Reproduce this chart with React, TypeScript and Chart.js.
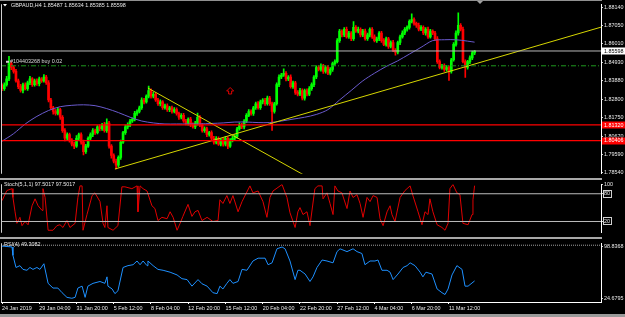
import React, { useEffect, useRef } from "react";
import { Chart, registerables } from "chart.js";

Chart.register(...registerables);

// ---------------- DATA ----------------
const symbolTitle = "GBPAUD,H4 1.85487 1.85634 1.85385 1.85598";
const orderText = "#104403268 buy 0.02";
const stochTitle = "Stoch(5,1,1) 97.5017 97.5017";
const rsiTitle = "RSI(4) 49.3082";

const firstOpen = 1.836;
const closes = [
  1.8342, 1.8364, 1.8398, 1.8487, 1.8464, 1.8442, 1.8387, 1.8353, 1.8331, 1.8364,
  1.8342, 1.8376, 1.8398, 1.8364, 1.8387, 1.837, 1.8398, 1.8387, 1.8409, 1.8376,
  1.8276, 1.8231, 1.8209, 1.8198, 1.822, 1.8176, 1.8098, 1.8054, 1.8076, 1.8043,
  1.802, 1.8009, 1.8054, 1.8076, 1.8032, 1.7976, 1.8009, 1.8054, 1.8076, 1.8098,
  1.8087, 1.812, 1.8109, 1.8131, 1.8098, 1.8142, 1.8009, 1.7954, 1.7921, 1.7898,
  1.7943, 1.8032, 1.8087, 1.812, 1.8131, 1.8154, 1.8165, 1.8198, 1.8209, 1.8231,
  1.8276, 1.8265, 1.8298, 1.8331, 1.8298, 1.8309, 1.8276, 1.8254, 1.8265, 1.8231,
  1.8242, 1.822, 1.8231, 1.8209, 1.822, 1.8198, 1.8176, 1.8187, 1.8154, 1.8142,
  1.8165, 1.8131, 1.812, 1.8142, 1.8176, 1.8131, 1.8098, 1.8109, 1.8076, 1.8087,
  1.8054, 1.8032, 1.8054, 1.802, 1.8043, 1.802, 1.8054, 1.8009, 1.8043, 1.8054,
  1.8065, 1.8109, 1.8131, 1.812, 1.8154, 1.8187, 1.8209, 1.8198, 1.8231, 1.8254,
  1.8231, 1.8265, 1.8276, 1.8254, 1.8287, 1.8254, 1.8209, 1.8254, 1.8365, 1.8409,
  1.842, 1.8431, 1.8398, 1.8409, 1.8353, 1.8376, 1.832, 1.8309, 1.8331, 1.8287,
  1.8331, 1.8309, 1.8342, 1.8365, 1.8409, 1.8464, 1.8453, 1.8475, 1.8442, 1.8464,
  1.8431, 1.8453, 1.8487, 1.8498, 1.862, 1.8675, 1.8653, 1.8686, 1.8642, 1.8664,
  1.8631, 1.8697, 1.8675, 1.8686, 1.8653, 1.8675, 1.8631, 1.8653, 1.8686, 1.8642,
  1.862, 1.8631, 1.8664, 1.862, 1.8598, 1.8631, 1.8587, 1.8609, 1.8564, 1.8553,
  1.8609, 1.8642, 1.8664, 1.8686, 1.8697, 1.8731, 1.8742, 1.872, 1.8709, 1.8686,
  1.8697, 1.8664, 1.8686, 1.8642, 1.8675, 1.8664, 1.8631, 1.8498, 1.8464, 1.8475,
  1.8453, 1.8464, 1.8442, 1.8509, 1.8598, 1.8664, 1.8709, 1.8686, 1.8498, 1.8464,
  1.8498, 1.852, 1.85487, 1.85598,
];
// upper / lower shadow lengths in pips
const wickHi = [
  10, 12, 15, 42, 10, 8, 12, 10, 14, 10, 12, 10, 15, 8, 10, 12, 10, 8, 14, 10,
  12, 10, 8, 12, 10, 8, 10, 12, 10, 8, 10, 12, 15, 8, 10, 12, 10, 8, 10, 12,
  10, 8, 12, 10, 15, 25, 10, 8, 10, 12, 10, 12, 8, 10, 12, 10, 8, 12, 10, 10,
  12, 10, 8, 25, 10, 12, 8, 10, 12, 8, 10, 12, 8, 10, 12, 10, 8, 10, 12, 10,
  8, 10, 12, 10, 24, 10, 8, 12, 10, 8, 10, 12, 10, 8, 10, 12, 10, 8, 10, 12,
  10, 8, 12, 10, 8, 10, 12, 10, 8, 10, 12, 10, 8, 10, 12, 10, 10, 8, 10, 12,
  10, 26, 10, 8, 12, 10, 8, 10, 12, 10, 8, 10, 12, 10, 8, 10, 12, 10, 8, 10,
  12, 10, 8, 10, 12, 10, 8, 10, 12, 10, 8, 33, 10, 12, 8, 10, 12, 10, 8, 10,
  12, 10, 8, 10, 12, 10, 8, 10, 12, 10, 8, 10, 12, 10, 8, 10, 33, 10, 8, 12,
  10, 8, 10, 12, 10, 8, 10, 12, 10, 8, 10, 12, 10, 8, 10, 12, 72, 10, 12, 10,
  8, 12, 10, 4,
];
const wickLo = [
  12, 10, 8, 10, 12, 10, 8, 12, 10, 14, 8, 10, 12, 10, 8, 10, 12, 10, 8, 10,
  12, 10, 15, 10, 8, 12, 10, 15, 10, 12, 10, 15, 8, 10, 12, 18, 10, 8, 10, 12,
  10, 8, 12, 10, 8, 10, 12, 15, 10, 22, 10, 12, 8, 10, 12, 10, 8, 10, 12, 8,
  10, 12, 8, 10, 12, 10, 8, 10, 12, 10, 8, 10, 12, 10, 8, 10, 12, 10, 8, 10,
  12, 10, 8, 10, 12, 10, 8, 10, 12, 10, 8, 12, 10, 8, 10, 12, 10, 15, 8, 10,
  12, 10, 8, 10, 12, 10, 8, 10, 12, 10, 8, 10, 12, 10, 8, 10, 109, 10, 8, 12,
  10, 8, 12, 10, 8, 10, 12, 10, 8, 10, 12, 10, 8, 10, 12, 10, 8, 10, 12, 10,
  8, 10, 12, 10, 8, 10, 12, 10, 8, 10, 12, 10, 8, 10, 12, 10, 8, 10, 12, 10,
  8, 10, 12, 10, 8, 10, 12, 10, 8, 18, 10, 12, 8, 10, 12, 10, 8, 10, 12, 10,
  8, 10, 12, 10, 8, 10, 12, 10, 8, 10, 12, 10, 52, 10, 8, 10, 12, 10, 8, 57,
  10, 12, 10, 10,
];

const maBars = [0, 5, 10, 15, 20, 25, 30, 35, 40, 45, 50, 55, 60, 65, 70, 75, 80, 85, 90, 95, 100, 105, 110, 115, 120, 125, 130, 135, 140, 145, 150, 155, 160, 165, 170, 175, 180, 185, 190, 195, 200, 203];
const maVals = [1.8037, 1.8081, 1.8137, 1.8181, 1.8215, 1.8237, 1.8245, 1.8248, 1.8243, 1.8226, 1.8203, 1.8176, 1.8154, 1.8143, 1.8137, 1.8137, 1.8137, 1.8137, 1.814, 1.8143, 1.8148, 1.8148, 1.8145, 1.8145, 1.8154, 1.8165, 1.8176, 1.8192, 1.822, 1.8276, 1.8331, 1.8387, 1.8431, 1.847, 1.8503, 1.8542, 1.8581, 1.862, 1.8625, 1.8625, 1.8617, 1.8611];

const trendUpBars = [48.5, 257.3];
const trendUpPrices = [1.7876, 1.8698];
const trendDownBars = [62.7, 130.5];
const trendDownPrices = [1.8345, 1.7835];

const bidPrice = 1.85598;
const orderPrice = 1.8474;
const redLevels = [1.8132, 1.80406];
const arrowBar = 98;
const arrowPrice = 1.8328;

const mainTicks = [1.8814, 1.8705, 1.8601, 1.8493, 1.8388, 1.828, 1.8175, 1.8067, 1.7959, 1.7854];

const stochBars = [0, 2.1, 4.3, 4.7, 5.6, 6.4, 7.7, 8.6, 9.9, 11.2, 12.9, 14.2, 15.5, 17.2, 17.6, 18.5, 19.8, 21.9, 23.6, 24.9, 26.2, 27.9, 29.2, 31.4, 32.6, 33.5, 34.4, 34.8, 36.5, 38.7, 39.9, 42.1, 43.4, 44.2, 45.1, 45.5, 47.7, 49.8, 51.5, 52.8, 55.8, 58, 58.4, 59.3, 60.6, 62.3, 64.4, 65.7, 67, 68.7, 70.9, 72.2, 73.5, 75.2, 76.5, 77.7, 79.9, 81.6, 82.9, 84.2, 85.9, 88.1, 90.6, 92.8, 93.6, 94.9, 96.6, 97.9, 99.2, 101.4, 103.1, 106.5, 107.8, 110, 112.1, 113.8, 115.1, 116.4, 120.3, 122.4, 123.7, 125.9, 127.1, 128, 129.3, 131, 132.3, 134.4, 135.7, 137.5, 137.9, 139.6, 140.9, 142.2, 143, 144.3, 146, 148.2, 149.5, 150.8, 152.5, 153.8, 155.1, 156.8, 158.1, 159.4, 161.1, 162.4, 163.7, 165.4, 166.7, 167.5, 168.8, 171, 173.1, 175.3, 176.5, 178.7, 180.4, 181.7, 183, 183.8, 185.1, 186.9, 189, 190.3, 191.6, 192.4, 193.7, 195.4, 196.7, 198, 200.2, 201.9, 202.3, 203];
const stochVals = [65, 87, 91, 72, 41, 16, 29, 11, 20, 13, 54, 69, 54, 44, 91, 72, 1, 1, 11, 13, 7, 22, 7, 16, 72, 97, 97, 1, 35, 76, 82, 63, 16, 7, 54, 7, 1, 11, 95, 95, 91, 97, 41, 97, 91, 86, 54, 48, 22, 29, 26, 41, 29, 1, 16, 31, 57, 31, 41, 44, 22, 29, 20, 22, 67, 59, 76, 59, 76, 41, 63, 97, 82, 86, 63, 29, 72, 86, 100, 72, 39, 7, 41, 50, 35, 41, 11, 91, 97, 97, 69, 82, 59, 35, 97, 86, 82, 48, 86, 72, 78, 59, 29, 72, 63, 76, 72, 26, 11, 41, 54, 35, 20, 72, 87, 97, 76, 41, 13, 41, 35, 69, 41, 13, 7, 1, 16, 91, 100, 82, 78, 16, 13, 35, 67, 97.5];
const stochLevels = [80, 20];
const stochTicks = [100, 80, 20];

const rsiBars = [0, 4.3, 4.7, 6, 7.7, 9, 10.7, 12, 13.3, 15, 16.3, 18, 19.8, 21.9, 24, 25.8, 27.9, 30, 31.4, 32.6, 34.4, 35.7, 36.9, 39.1, 42.1, 44.2, 45.1, 45.5, 47.3, 48.5, 49.8, 52, 54.1, 56.3, 58, 59.3, 60.6, 62.3, 62.7, 64.9, 67, 69.2, 72.2, 75.2, 77.3, 79.5, 81.6, 84.2, 85.9, 88.1, 90.6, 92.4, 93.6, 94.9, 96.6, 97.9, 99.2, 101.4, 103.1, 105.2, 107.8, 110, 113, 114.3, 116, 118.1, 120.3, 121.6, 123.7, 125.9, 127.1, 128, 130.2, 132.3, 133.6, 135.3, 137.5, 139.6, 142.2, 143.9, 145.2, 148.2, 150.8, 152.5, 154.6, 155.9, 158.1, 160.2, 161.5, 163.2, 165.4, 166.7, 168, 170.1, 172.3, 174, 175.3, 177.4, 179.6, 180.8, 182.1, 184.7, 186.9, 189, 190.3, 191.6, 193.3, 195.4, 197.6, 198.9, 200.2, 203];
const rsiVals = [98.8, 97.5, 85.6, 68.4, 71, 65.7, 64.4, 68.4, 65.7, 68.4, 65.7, 73.7, 45.9, 39.2, 39.2, 32.6, 26, 24.7, 26, 39.2, 41.9, 26, 41.9, 45.9, 48.5, 45.9, 55.1, 41.9, 37.9, 31.3, 35.3, 68.4, 71, 72.3, 77.6, 72.3, 77.6, 71, 77.6, 71, 65.7, 64.4, 61.7, 57.8, 52.5, 51.2, 41.9, 51.2, 45.3, 41.9, 32.6, 31.3, 41.9, 37.9, 45.9, 51.2, 45.9, 48.5, 65.7, 64.4, 77.6, 81.6, 81.6, 72.3, 75, 94.9, 97.5, 94.9, 77.6, 51.2, 64.4, 64.4, 59.1, 48.5, 55.1, 68.4, 79, 77.6, 75, 90.9, 94.9, 90.9, 94.9, 90.9, 88.2, 72.3, 77.6, 77.6, 79, 64.4, 64.4, 61.7, 51.2, 59.1, 68.4, 71, 75, 71, 61.7, 55.1, 61.7, 59.1, 37.9, 32.6, 30, 37.9, 57.8, 71, 65.7, 41.9, 41.9, 49.3];
const rsiTicks = [98.8368, 24.6795];
const rsiTopLevel = 100;

const dateTickBars = [0, 16, 32, 48, 64, 80, 96, 112, 128, 144, 160, 176, 192];
const dateLabels = ["24 Jan 2019", "29 Jan 04:00", "31 Jan 20:00", "5 Feb 12:00", "8 Feb 04:00", "12 Feb 20:00", "15 Feb 12:00", "20 Feb 04:00", "22 Feb 20:00", "27 Feb 12:00", "4 Mar 04:00", "6 Mar 20:00", "11 Mar 12:00"];

// ---------------- STYLE ----------------
const PIP = 0.0001;
const FONT = "'Liberation Sans', Arial, sans-serif";
const FS = 5.4;
const X_MIN = -0.43;
const X_MAX = 257.3;
const UP = "#00ff00";
const DOWN = "#ff0000";
const TXT = "#e8e8e8";

const opens = closes.map((c, i) => (i === 0 ? firstOpen : closes[i - 1]));
const highs = closes.map((c, i) => Math.max(opens[i], c) + wickHi[i] * PIP);
const lows = closes.map((c, i) => Math.min(opens[i], c) - wickLo[i] * PIP);
const candleColors = closes.map((c, i) => (c >= opens[i] ? UP : DOWN));

const hline = (v: number) => [{ x: X_MIN, y: v }, { x: X_MAX, y: v }];
const pts = (xs: number[], ys: number[]) => xs.map((x, i) => ({ x, y: ys[i] }));

const xAxis = (display: boolean): any => ({
  type: "linear",
  min: X_MIN,
  max: X_MAX,
  offset: false,
  display,
});

const yAxisBase = (min: number, max: number, ticks: number[], fmt: (v: number) => string): any => ({
  position: "right",
  min,
  max,
  beginAtZero: false,
  afterFit: (s: any) => {
    s.width = 24;
  },
  afterBuildTicks: (s: any) => {
    s.ticks = ticks.map((v) => ({ value: v }));
  },
  ticks: {
    autoSkip: false,
    color: TXT,
    padding: 1,
    font: { size: FS, family: FONT },
    callback: (v: number) => fmt(v),
  },
  grid: { display: true, drawOnChartArea: false, drawTicks: true, tickLength: 2, color: "#cccccc" },
  border: { display: true, color: "#ffffff", width: 1 },
});

function txt(ctx: CanvasRenderingContext2D, s: string, x: number, y: number, color = TXT, align: CanvasTextAlign = "left") {
  ctx.save();
  ctx.font = `${FS}px ${FONT}`;
  ctx.fillStyle = color;
  ctx.textAlign = align;
  ctx.textBaseline = "middle";
  ctx.fillText(s, x, y);
  ctx.restore();
}

function priceBox(ctx: CanvasRenderingContext2D, y: number, label: string, bg: string, fg: string) {
  ctx.save();
  ctx.fillStyle = bg;
  ctx.fillRect(602, Math.round(y) - 3.5, 23, 7);
  ctx.restore();
  txt(ctx, label, 604, y + 0.3, fg);
}

function leftBorder(chart: any) {
  const ctx = chart.ctx;
  const a = chart.chartArea;
  ctx.save();
  ctx.strokeStyle = "#d0d0d0";
  ctx.lineWidth = 1;
  ctx.beginPath();
  ctx.moveTo(a.left + 0.5, a.top);
  ctx.lineTo(a.left + 0.5, a.bottom);
  ctx.stroke();
  ctx.restore();
}

const mainOverlay = {
  id: "mainOverlay",
  afterDraw(chart: any) {
    const ctx = chart.ctx as CanvasRenderingContext2D;
    const ys = chart.scales.y;
    const xs = chart.scales.x;
    leftBorder(chart);
    // top line
    ctx.save();
    ctx.strokeStyle = "#909090";
    ctx.beginPath();
    ctx.moveTo(0, 0.5);
    ctx.lineTo(602, 0.5);
    ctx.stroke();
    // title triangle
    ctx.fillStyle = "#ffffff";
    ctx.beginPath();
    ctx.moveTo(3, 4);
    ctx.lineTo(7, 4);
    ctx.lineTo(5, 6.5);
    ctx.closePath();
    ctx.fill();
    // shift marker
    ctx.fillStyle = "#a0a0a0";
    ctx.beginPath();
    ctx.moveTo(477, 1);
    ctx.lineTo(483, 1);
    ctx.lineTo(480, 4);
    ctx.closePath();
    ctx.fill();
    // order icon
    ctx.fillStyle = "#c8c8c8";
    ctx.fillRect(6, ys.getPixelForValue(orderPrice) - 5, 3, 2);
    // arrow
    const ax = xs.getPixelForValue(arrowBar);
    const ay = ys.getPixelForValue(arrowPrice);
    ctx.strokeStyle = "#e00000";
    ctx.lineWidth = 1;
    ctx.beginPath();
    ctx.moveTo(ax, ay - 3.5);
    ctx.lineTo(ax + 3.5, ay);
    ctx.lineTo(ax + 1.5, ay);
    ctx.lineTo(ax + 1.5, ay + 3);
    ctx.lineTo(ax - 1.5, ay + 3);
    ctx.lineTo(ax - 1.5, ay);
    ctx.lineTo(ax - 3.5, ay);
    ctx.closePath();
    ctx.stroke();
    ctx.restore();
    txt(ctx, symbolTitle, 11, 5.5);
    txt(ctx, orderText, 10, ys.getPixelForValue(orderPrice) - 4, "#d8d8d8");
    priceBox(ctx, ys.getPixelForValue(bidPrice), bidPrice.toFixed(5), "#ffffff", "#000000");
    redLevels.forEach((v) => priceBox(ctx, ys.getPixelForValue(v), v.toFixed(5), "#ff0000", "#ffffff"));
  },
};

const stochOverlay = {
  id: "stochOverlay",
  afterDraw(chart: any) {
    const ctx = chart.ctx as CanvasRenderingContext2D;
    const ys = chart.scales.y;
    leftBorder(chart);
    txt(ctx, stochTitle, 4, 5);
    ctx.save();
    ctx.strokeStyle = "#d0d0d0";
    ctx.lineWidth = 1;
    stochLevels.forEach((v) => {
      const y = Math.round(ys.getPixelForValue(v));
      ctx.strokeRect(603.5, y - 3.5, 8, 7);
    });
    ctx.restore();
  },
};

const rsiOverlay = {
  id: "rsiOverlay",
  afterDraw(chart: any) {
    const ctx = chart.ctx as CanvasRenderingContext2D;
    leftBorder(chart);
    txt(ctx, rsiTitle, 4, 6);
  },
};

function mainConfig(): any {
  return {
    type: "bar",
    data: {
      datasets: [
        { type: "line", data: hline(bidPrice), borderColor: "#b8b8b8", borderWidth: 1, pointRadius: 0, order: 0 },
        ...redLevels.map((v) => ({ type: "line", data: hline(v), borderColor: "#ff0000", borderWidth: 1.3, pointRadius: 0, order: 0 })),
        { type: "line", data: hline(orderPrice), borderColor: "#1e9a1e", borderWidth: 1, borderDash: [5, 2, 1, 2], pointRadius: 0, order: 0 },
        { type: "line", data: pts(trendUpBars, trendUpPrices), borderColor: "#d6d600", borderWidth: 1, pointRadius: 0, order: 0 },
        { type: "line", data: pts(trendDownBars, trendDownPrices), borderColor: "#d6d600", borderWidth: 1, pointRadius: 0, order: 0 },
        { type: "line", data: pts(maBars, maVals), borderColor: "#6a5acd", borderWidth: 1, pointRadius: 0, tension: 0.3, order: 0 },
        {
          type: "bar",
          data: closes.map((c, i) => ({ x: i, y: [opens[i], c] })),
          backgroundColor: candleColors,
          barThickness: 2,
          minBarLength: 1,
          grouped: false,
          order: 1,
        },
        {
          type: "bar",
          data: closes.map((c, i) => ({ x: i, y: [lows[i], highs[i]] })),
          backgroundColor: candleColors,
          barThickness: 1,
          grouped: false,
          order: 2,
        },
      ],
    },
    options: {
      animation: false,
      responsive: true,
      maintainAspectRatio: false,
      layout: { padding: { left: 1, right: 0, top: 1, bottom: 1 } },
      plugins: { legend: { display: false }, tooltip: { enabled: false } },
      scales: {
        x: xAxis(false),
        y: yAxisBase(1.784842, 1.883074, mainTicks, (v) => v.toFixed(5)),
      },
    },
    plugins: [mainOverlay],
  };
}

function stochConfig(): any {
  return {
    type: "line",
    data: {
      datasets: [
        ...stochLevels.map((v) => ({ data: hline(v), borderColor: "#bdbdbd", borderWidth: 1, pointRadius: 0 })),
        { data: pts(stochBars, stochVals), borderColor: "#e00000", borderWidth: 1, pointRadius: 0 },
      ],
    },
    options: {
      animation: false,
      responsive: true,
      maintainAspectRatio: false,
      layout: { padding: { left: 1, right: 0, top: 0, bottom: 1 } },
      plugins: { legend: { display: false }, tooltip: { enabled: false } },
      scales: {
        x: xAxis(false),
        y: yAxisBase(-4.4, 100.6, stochTicks, (v) => String(v)),
      },
    },
    plugins: [stochOverlay],
  };
}

function rsiConfig(): any {
  return {
    type: "line",
    data: {
      datasets: [
        { data: hline(rsiTopLevel), borderColor: "#a0a0a0", borderWidth: 1, borderDash: [1, 1], pointRadius: 0 },
        { data: pts(rsiBars, rsiVals), borderColor: "#1e90ff", borderWidth: 1, pointRadius: 0 },
      ],
    },
    options: {
      animation: false,
      responsive: true,
      maintainAspectRatio: false,
      layout: { padding: { left: 1, right: 0, top: 0, bottom: 2 } },
      plugins: { legend: { display: false }, tooltip: { enabled: false } },
      scales: {
        x: {
          ...xAxis(true),
          afterFit: (s: any) => {
            s.height = 13;
          },
          afterBuildTicks: (s: any) => {
            s.ticks = dateTickBars.map((v) => ({ value: v }));
          },
          ticks: {
            autoSkip: false,
            maxRotation: 0,
            align: "start",
            color: TXT,
            padding: 1,
            font: { size: FS, family: FONT },
            callback: (_v: number, i: number) => dateLabels[i],
          },
          grid: { display: true, drawOnChartArea: false, drawTicks: true, tickLength: 2, color: "#ffffff" },
          border: { display: true, color: "#ffffff", width: 1 },
        },
        y: yAxisBase(19.4, 102.8, rsiTicks, (v) => v.toFixed(4)),
      },
    },
    plugins: [rsiOverlay],
  };
}

function Panel({ top, height, make }: { top: number; height: number; make: () => any }) {
  const ref = useRef<HTMLCanvasElement>(null);
  useEffect(() => {
    const chart = new Chart(ref.current as HTMLCanvasElement, make());
    return () => chart.destroy();
  }, []);
  return (
    <div style={{ position: "absolute", left: 0, top, width: 625, height }}>
      <canvas ref={ref} />
    </div>
  );
}

export default function App() {
  return (
    <div style={{ position: "fixed", left: 0, top: 0, width: 625, height: 317, background: "#000", overflow: "hidden" }}>
      <Panel top={0} height={178} make={mainConfig} />
      <div style={{ position: "absolute", left: 0, top: 178, width: 602, height: 2, background: "#a8a8a8" }} />
      <Panel top={180} height={57} make={stochConfig} />
      <div style={{ position: "absolute", left: 0, top: 237, width: 602, height: 2, background: "#a8a8a8" }} />
      <Panel top={239} height={78} make={rsiConfig} />
      <div style={{ position: "absolute", left: 0, top: 314, width: 625, height: 3, background: "#9a9a9a" }} />
    </div>
  );
}
